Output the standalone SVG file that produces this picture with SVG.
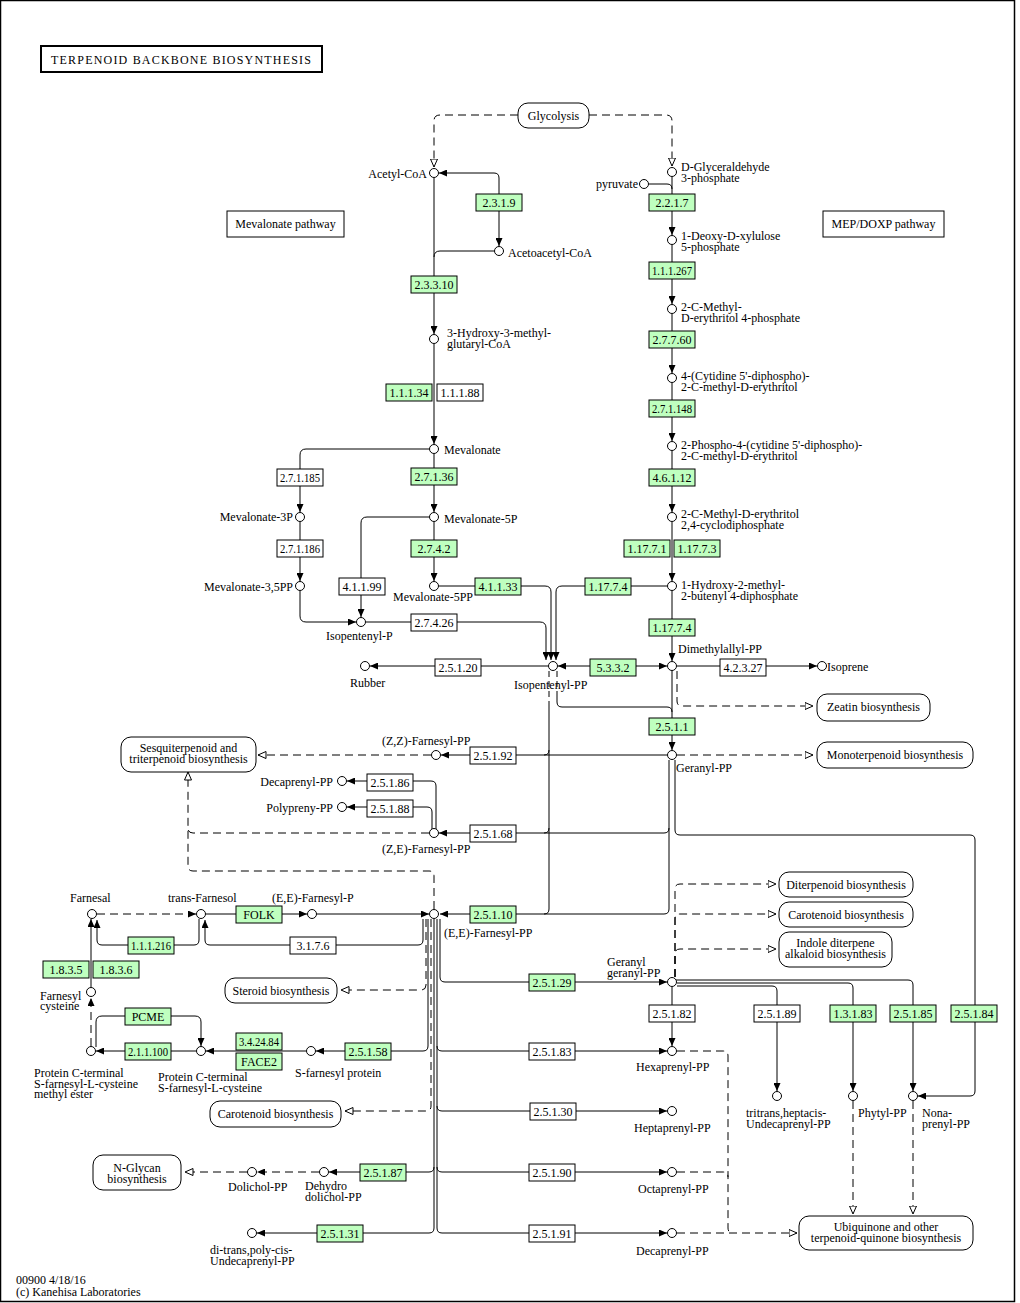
<svg xmlns="http://www.w3.org/2000/svg" width="1020" height="1303" viewBox="0 0 1020 1303">
<style>
text{font-family:"Liberation Serif","Times New Roman",serif;font-size:12px;fill:#000}
.ln{fill:none;stroke:#000;stroke-width:1}
.dl{fill:none;stroke:#000;stroke-width:1;stroke-dasharray:8 5}
.ds{fill:none;stroke:#000;stroke-width:1;stroke-dasharray:6 4}
.cp{fill:#fff;stroke:#000;stroke-width:1}
.eg rect{fill:#bfffbf;stroke:#000;stroke-width:1}
.ew rect{fill:#fff;stroke:#000;stroke-width:1}
.eg text,.ew text,.mp text{text-anchor:middle}
.mp rect{fill:#fff;stroke:#000;stroke-width:1}
.e{text-anchor:end}
</style>
<defs>
<marker id="fa" viewBox="0 0 8 7" refX="8" refY="3.5" markerWidth="8" markerHeight="7" markerUnits="userSpaceOnUse" orient="auto-start-reverse"><path d="M0,0L8,3.5L0,7z" fill="#000"/></marker>
<marker id="oa" viewBox="0 0 9 8" refX="8.5" refY="4" markerWidth="9" markerHeight="8" markerUnits="userSpaceOnUse" orient="auto"><path d="M0.5,0.5L8.5,4L0.5,7.5z" fill="#fff" stroke="#000" stroke-width="1" stroke-dasharray="none"/></marker>
</defs>
<rect x="0.5" y="0.5" width="1014" height="1301" fill="#fff" stroke="#000" stroke-width="1.5"/>
<g id="title"><rect x="41" y="46" width="281" height="26" fill="#fff" stroke="#000" stroke-width="2"/><text x="51" y="64" textLength="260" lengthAdjust="spacing">TERPENOID BACKBONE BIOSYNTHESIS</text></g>

<g id="connectors">
<path class="dl" marker-end="url(#oa)" d="M518,115H440Q434,115 434,121V167"/>
<path class="dl" marker-end="url(#oa)" d="M589,115H666Q672,115 672,121V166"/>
<path class="ln" marker-start="url(#fa)" marker-end="url(#fa)" d="M439,173H494Q499,173 499,178V246"/>
<path class="ln" d="M649,184H667Q672,184 672,189"/>
<path class="ln" marker-end="url(#fa)" d="M672,177V235"/>
<path class="ln" marker-end="url(#fa)" d="M672,245V304"/>
<path class="ln" marker-end="url(#fa)" d="M672,314V373"/>
<path class="ln" marker-end="url(#fa)" d="M672,383V441"/>
<path class="ln" marker-end="url(#fa)" d="M672,451V512"/>
<path class="ln" marker-end="url(#fa)" d="M672,522V581"/>
<path class="ln" marker-end="url(#fa)" d="M672,591V661"/>
<path class="ln" d="M494,251H440Q434,251 434,257"/>
<path class="ln" marker-end="url(#fa)" d="M434,178V334"/>
<path class="ln" marker-end="url(#fa)" d="M434,344V444"/>
<path class="ln" marker-end="url(#fa)" d="M434,454V512"/>
<path class="ln" marker-end="url(#fa)" d="M434,522V581"/>
<path class="ln" marker-end="url(#fa)" d="M429,449H306Q300,449 300,455V512"/>
<path class="ln" marker-end="url(#fa)" d="M300,522V581"/>
<path class="ln" marker-end="url(#fa)" d="M300,591V616Q300,622 306,622H356"/>
<path class="ln" marker-end="url(#fa)" d="M429,517H367Q361,517 361,523V617"/>
<path class="ln" marker-end="url(#fa)" d="M366,622H540Q546,622 546,628V660"/>
<path class="ln" marker-end="url(#fa)" d="M439,586H545Q551,586 551,592V660"/>
<path class="ln" marker-end="url(#fa)" d="M667,586H562Q556,586 556,592V660"/>
<path class="ln" marker-start="url(#fa)" marker-end="url(#fa)" d="M558,666H667"/>
<path class="ln" marker-end="url(#fa)" d="M548,666H370"/>
<path class="ln" marker-end="url(#fa)" d="M677,666H817"/>
<path class="dl" marker-end="url(#oa)" d="M677,671V701Q677,706 682,706H813"/>
<path class="ln" marker-end="url(#fa)" d="M672,671V750"/>
<path class="ds" d="M557,671V697"/>
<path class="ln" d="M557,697V702Q557,707 562,707H667Q672,707 672,712"/>
<path class="ds" d="M549,671V703"/>
<path class="ln" d="M549,703V750Q549,755 544,755M549,750V828Q549,833 544,833M549,828V909Q549,914 544,914"/>
<path class="ln" marker-end="url(#fa)" d="M667,755H441"/>
<path class="dl" marker-end="url(#oa)" d="M431,755H258"/>
<path class="dl" marker-end="url(#oa)" d="M677,755H813"/>
<path class="ln" marker-end="url(#fa)" d="M669,760V828Q669,833 664,833H439"/>
<path class="ln" marker-end="url(#fa)" d="M669,828V909Q669,914 664,914H440"/>
<path class="ln" marker-end="url(#fa)" d="M675,760V830Q675,835 680,835H970Q975,835 975,840V1091Q975,1096 970,1096H918"/>
<path class="dl" d="M429,833H193Q188,833 188,828"/>
<path class="dl" marker-end="url(#oa)" d="M434,909V876Q434,871 429,871H193Q188,871 188,866V772"/>
<path class="ln" marker-end="url(#fa)" d="M436,829V786Q436,781 431,781H347"/>
<path class="ln" marker-end="url(#fa)" d="M432,829V812Q432,807 427,807H347"/>
<path class="dl" marker-end="url(#fa)" d="M97,914H196"/>
<path class="ln" marker-end="url(#fa)" d="M206,914H307"/>
<path class="ln" marker-end="url(#fa)" d="M317,914H429"/>
<path class="ln" marker-end="url(#fa)" d="M199,919V940Q199,945 194,945H102Q97,945 97,940V920"/>
<path class="ln" marker-end="url(#fa)" d="M423,919V940Q423,945 418,945H210Q205,945 205,940V920"/>
<path class="ln" marker-end="url(#fa)" d="M91,987V919"/>
<path class="dl" marker-end="url(#fa)" d="M91,1046V998"/>
<path class="ln" marker-end="url(#fa)" d="M96,1047V1022Q96,1016 102,1016H195Q201,1016 201,1022V1046"/>
<path class="ln" marker-end="url(#fa)" d="M196,1051H96"/>
<path class="ln" marker-end="url(#fa)" d="M306,1051H206"/>
<path class="ln" marker-end="url(#fa)" d="M428,919V1046Q428,1051 423,1051H316"/>
<path class="dl" marker-end="url(#oa)" d="M426,919V985Q426,990 421,990H341"/>
<path class="dl" marker-end="url(#oa)" d="M431,919V1106Q431,1111 426,1111H345"/>
<path class="ln" marker-end="url(#fa)" d="M434,919V1167Q434,1172 429,1172H329"/>
<path class="ln" marker-end="url(#fa)" d="M434,1167V1228Q434,1233 429,1233H257"/>
<path class="dl" marker-end="url(#fa)" d="M319,1172H257"/>
<path class="dl" marker-end="url(#oa)" d="M247,1172H185"/>
<path class="ln" marker-end="url(#fa)" d="M437,919V1046Q437,1051 442,1051H667"/>
<path class="ln" marker-end="url(#fa)" d="M437,1046V1106Q437,1111 442,1111H667"/>
<path class="ln" marker-end="url(#fa)" d="M437,1106V1167Q437,1172 442,1172H667"/>
<path class="ln" marker-end="url(#fa)" d="M437,1167V1228Q437,1233 442,1233H667"/>
<path class="ln" marker-end="url(#fa)" d="M440,919V977Q440,982 445,982H667"/>
<path class="ln" marker-end="url(#fa)" d="M672,987V1046"/>
<path class="ln" marker-end="url(#fa)" d="M676,980H908Q913,980 913,985V1091"/>
<path class="ln" marker-end="url(#fa)" d="M677,983H848Q853,983 853,988V1091"/>
<path class="ln" marker-end="url(#fa)" d="M677,986H772Q777,986 777,991V1091"/>
<path class="dl" marker-end="url(#oa)" d="M675,977V889Q675,884 680,884H776"/>
<path class="dl" marker-end="url(#oa)" d="M675,977V919Q675,914 680,914H776"/>
<path class="dl" marker-end="url(#oa)" d="M675,977V954Q675,949 680,949H776"/>
<path class="dl" d="M677,1051H723Q728,1051 728,1056V1228Q728,1233 733,1233"/>
<path class="dl" d="M677,1172H723Q728,1172 728,1177"/>
<path class="dl" marker-end="url(#oa)" d="M677,1233H797"/>
<path class="dl" marker-end="url(#oa)" d="M853,1101V1214"/>
<path class="dl" marker-end="url(#oa)" d="M913,1101V1214"/>
</g>

<g id="map-glycolysis" class="mp"><rect x="518" y="103" width="71" height="25" rx="10"/><text x="553.5" y="120">Glycolysis</text></g>
<g id="map-zeatin" class="mp"><rect x="817" y="694" width="113" height="27" rx="10"/><text x="873.5" y="711">Zeatin biosynthesis</text></g>
<g id="map-monoterpenoid" class="mp"><rect x="817" y="742" width="156" height="26" rx="10"/><text x="895" y="759">Monoterpenoid biosynthesis</text></g>
<g id="map-sesquiterpenoid" class="mp"><rect x="121" y="737" width="135" height="35" rx="10"/><text x="188.5" y="752">Sesquiterpenoid and<tspan x="188.5" dy="11">triterpenoid biosynthesis</tspan></text></g>
<g id="map-steroid" class="mp"><rect x="225" y="978" width="112" height="25" rx="10"/><text x="281" y="995">Steroid biosynthesis</text></g>
<g id="map-carotenoid-l" class="mp"><rect x="210" y="1101" width="131" height="26" rx="10"/><text x="275.5" y="1118">Carotenoid biosynthesis</text></g>
<g id="map-nglycan" class="mp"><rect x="93" y="1155" width="88" height="35" rx="10"/><text x="137" y="1172">N-Glycan<tspan x="137" dy="11">biosynthesis</tspan></text></g>
<g id="map-diterpenoid" class="mp"><rect x="779" y="872" width="134" height="25" rx="10"/><text x="846" y="889">Diterpenoid biosynthesis</text></g>
<g id="map-carotenoid-r" class="mp"><rect x="779" y="902" width="134" height="25" rx="10"/><text x="846" y="919">Carotenoid biosynthesis</text></g>
<g id="map-indole" class="mp"><rect x="779" y="932" width="113" height="35" rx="10"/><text x="835.5" y="947">Indole diterpene<tspan x="835.5" dy="11">alkaloid biosynthesis</tspan></text></g>
<g id="map-ubiquinone" class="mp"><rect x="799" y="1216" width="174" height="34" rx="10"/><text x="886" y="1231">Ubiquinone and other<tspan x="886" dy="11">terpenoid-quinone biosynthesis</tspan></text></g>
<g id="mevalonate-pathway" class="mp"><rect x="227" y="211" width="117" height="26"/><text x="285.5" y="228">Mevalonate pathway</text></g>
<g id="mep-pathway" class="mp"><rect x="823" y="211" width="121" height="26"/><text x="883.5" y="228">MEP/DOXP pathway</text></g>

<g id="e-2.3.1.9" class="eg"><rect x="476" y="194" width="46" height="17"/><text x="499" y="207">2.3.1.9</text></g>
<g id="e-2.3.3.10" class="eg"><rect x="411" y="276" width="46" height="17"/><text x="434" y="289">2.3.3.10</text></g>
<g id="e-1.1.1.34" class="eg"><rect x="386" y="384" width="46" height="17"/><text x="409" y="397">1.1.1.34</text></g>
<g id="e-1.1.1.88" class="ew"><rect x="437" y="384" width="46" height="17"/><text x="460" y="397">1.1.1.88</text></g>
<g id="e-2.7.1.36" class="eg"><rect x="411" y="468" width="46" height="17"/><text x="434" y="481">2.7.1.36</text></g>
<g id="e-2.7.4.2" class="eg"><rect x="411" y="540" width="46" height="17"/><text x="434" y="553">2.7.4.2</text></g>
<g id="e-2.7.1.185" class="ew"><rect x="277" y="469" width="46" height="17"/><text x="300" y="482" textLength="40" lengthAdjust="spacingAndGlyphs">2.7.1.185</text></g>
<g id="e-2.7.1.186" class="ew"><rect x="277" y="540" width="46" height="17"/><text x="300" y="553" textLength="40" lengthAdjust="spacingAndGlyphs">2.7.1.186</text></g>
<g id="e-4.1.1.99" class="ew"><rect x="339" y="578" width="46" height="17"/><text x="362" y="591">4.1.1.99</text></g>
<g id="e-4.1.1.33" class="eg"><rect x="475" y="578" width="46" height="17"/><text x="498" y="591">4.1.1.33</text></g>
<g id="e-2.7.4.26" class="ew"><rect x="411" y="614" width="46" height="17"/><text x="434" y="627">2.7.4.26</text></g>
<g id="e-1.17.7.4a" class="eg"><rect x="585" y="578" width="46" height="17"/><text x="608" y="591">1.17.7.4</text></g>
<g id="e-2.5.1.20" class="ew"><rect x="435" y="659" width="46" height="17"/><text x="458" y="672">2.5.1.20</text></g>
<g id="e-5.3.3.2" class="eg"><rect x="590" y="659" width="46" height="17"/><text x="613" y="672">5.3.3.2</text></g>
<g id="e-2.2.1.7" class="eg"><rect x="649" y="194" width="46" height="17"/><text x="672" y="207">2.2.1.7</text></g>
<g id="e-1.1.1.267" class="eg"><rect x="649" y="262" width="46" height="17"/><text x="672" y="275" textLength="40" lengthAdjust="spacingAndGlyphs">1.1.1.267</text></g>
<g id="e-2.7.7.60" class="eg"><rect x="649" y="331" width="46" height="17"/><text x="672" y="344">2.7.7.60</text></g>
<g id="e-2.7.1.148" class="eg"><rect x="649" y="400" width="46" height="17"/><text x="672" y="413" textLength="40" lengthAdjust="spacingAndGlyphs">2.7.1.148</text></g>
<g id="e-4.6.1.12" class="eg"><rect x="649" y="469" width="46" height="17"/><text x="672" y="482">4.6.1.12</text></g>
<g id="e-1.17.7.1" class="eg"><rect x="624" y="540" width="46" height="17"/><text x="647" y="553">1.17.7.1</text></g>
<g id="e-1.17.7.3" class="eg"><rect x="674" y="540" width="46" height="17"/><text x="697" y="553">1.17.7.3</text></g>
<g id="e-1.17.7.4b" class="eg"><rect x="649" y="619" width="46" height="17"/><text x="672" y="632">1.17.7.4</text></g>
<g id="e-4.2.3.27" class="ew"><rect x="720" y="659" width="46" height="17"/><text x="743" y="672">4.2.3.27</text></g>
<g id="e-2.5.1.1" class="eg"><rect x="649" y="718" width="46" height="17"/><text x="672" y="731">2.5.1.1</text></g>
<g id="e-2.5.1.92" class="ew"><rect x="470" y="747" width="46" height="17"/><text x="493" y="760">2.5.1.92</text></g>
<g id="e-2.5.1.86" class="ew"><rect x="367" y="774" width="46" height="17"/><text x="390" y="787">2.5.1.86</text></g>
<g id="e-2.5.1.88" class="ew"><rect x="367" y="800" width="46" height="17"/><text x="390" y="813">2.5.1.88</text></g>
<g id="e-2.5.1.68" class="ew"><rect x="470" y="825" width="46" height="17"/><text x="493" y="838">2.5.1.68</text></g>
<g id="e-2.5.1.10" class="eg"><rect x="470" y="906" width="46" height="17"/><text x="493" y="919">2.5.1.10</text></g>
<g id="e-FOLK" class="eg"><rect x="236" y="906" width="46" height="17"/><text x="259" y="919">FOLK</text></g>
<g id="e-1.1.1.216" class="eg"><rect x="128" y="937" width="46" height="17"/><text x="151" y="950" textLength="40" lengthAdjust="spacingAndGlyphs">1.1.1.216</text></g>
<g id="e-3.1.7.6" class="ew"><rect x="290" y="937" width="46" height="17"/><text x="313" y="950">3.1.7.6</text></g>
<g id="e-1.8.3.5" class="eg"><rect x="43" y="961" width="46" height="17"/><text x="66" y="974">1.8.3.5</text></g>
<g id="e-1.8.3.6" class="eg"><rect x="93" y="961" width="46" height="17"/><text x="116" y="974">1.8.3.6</text></g>
<g id="e-PCME" class="eg"><rect x="125" y="1008" width="46" height="17"/><text x="148" y="1021">PCME</text></g>
<g id="e-2.1.1.100" class="eg"><rect x="125" y="1043" width="46" height="17"/><text x="148" y="1056" textLength="40" lengthAdjust="spacingAndGlyphs">2.1.1.100</text></g>
<g id="e-3.4.24.84" class="eg"><rect x="236" y="1033" width="46" height="17"/><text x="259" y="1046" textLength="40" lengthAdjust="spacingAndGlyphs">3.4.24.84</text></g>
<g id="e-FACE2" class="eg"><rect x="236" y="1053" width="46" height="17"/><text x="259" y="1066">FACE2</text></g>
<g id="e-2.5.1.58" class="eg"><rect x="345" y="1043" width="46" height="17"/><text x="368" y="1056">2.5.1.58</text></g>
<g id="e-2.5.1.87" class="eg"><rect x="360" y="1164" width="46" height="17"/><text x="383" y="1177">2.5.1.87</text></g>
<g id="e-2.5.1.31" class="eg"><rect x="317" y="1225" width="46" height="17"/><text x="340" y="1238">2.5.1.31</text></g>
<g id="e-2.5.1.29" class="eg"><rect x="529" y="974" width="46" height="17"/><text x="552" y="987">2.5.1.29</text></g>
<g id="e-2.5.1.82" class="ew"><rect x="649" y="1005" width="46" height="17"/><text x="672" y="1018">2.5.1.82</text></g>
<g id="e-2.5.1.89" class="ew"><rect x="754" y="1005" width="46" height="17"/><text x="777" y="1018">2.5.1.89</text></g>
<g id="e-1.3.1.83" class="eg"><rect x="830" y="1005" width="46" height="17"/><text x="853" y="1018">1.3.1.83</text></g>
<g id="e-2.5.1.85" class="eg"><rect x="890" y="1005" width="46" height="17"/><text x="913" y="1018">2.5.1.85</text></g>
<g id="e-2.5.1.84" class="eg"><rect x="951" y="1005" width="46" height="17"/><text x="974" y="1018">2.5.1.84</text></g>
<g id="e-2.5.1.83" class="ew"><rect x="529" y="1043" width="46" height="17"/><text x="552" y="1056">2.5.1.83</text></g>
<g id="e-2.5.1.30" class="ew"><rect x="530" y="1103" width="46" height="17"/><text x="553" y="1116">2.5.1.30</text></g>
<g id="e-2.5.1.90" class="ew"><rect x="529" y="1164" width="46" height="17"/><text x="552" y="1177">2.5.1.90</text></g>
<g id="e-2.5.1.91" class="ew"><rect x="529" y="1225" width="46" height="17"/><text x="552" y="1238">2.5.1.91</text></g>

<g id="c-acetylcoa"><circle class="cp" cx="434" cy="173" r="4.5"/><text class="e" x="427" y="178">Acetyl-CoA</text></g>
<g id="c-acetoacetylcoa"><circle class="cp" cx="499" cy="251" r="4.5"/><text x="508" y="257">Acetoacetyl-CoA</text></g>
<g id="c-hmgcoa"><circle class="cp" cx="434" cy="339" r="4.5"/><text x="447" y="337">3-Hydroxy-3-methyl-<tspan x="447" dy="11">glutaryl-CoA</tspan></text></g>
<g id="c-mevalonate"><circle class="cp" cx="434" cy="449" r="4.5"/><text x="444" y="454">Mevalonate</text></g>
<g id="c-mev5p"><circle class="cp" cx="434" cy="517" r="4.5"/><text x="444" y="523">Mevalonate-5P</text></g>
<g id="c-mev5pp"><circle class="cp" cx="434" cy="586" r="4.5"/><text x="393" y="601">Mevalonate-5PP</text></g>
<g id="c-mev3p"><circle class="cp" cx="300" cy="517" r="4.5"/><text class="e" x="293" y="521">Mevalonate-3P</text></g>
<g id="c-mev35pp"><circle class="cp" cx="300" cy="586" r="4.5"/><text class="e" x="293" y="591">Mevalonate-3,5PP</text></g>
<g id="c-ip"><circle class="cp" cx="361" cy="622" r="4.5"/><text x="326" y="640">Isopentenyl-P</text></g>
<g id="c-ipp"><circle class="cp" cx="553" cy="666" r="4.5"/><text x="514" y="689">Isopentenyl-PP</text></g>
<g id="c-rubber"><circle class="cp" cx="365" cy="666" r="4.5"/><text x="350" y="687">Rubber</text></g>
<g id="c-gap"><circle class="cp" cx="672" cy="172" r="4.5"/><text x="681" y="171">D-Glyceraldehyde<tspan x="681" dy="11">3-phosphate</tspan></text></g>
<g id="c-pyruvate"><circle class="cp" cx="644" cy="184" r="4.5"/><text class="e" x="638" y="188">pyruvate</text></g>
<g id="c-dxp"><circle class="cp" cx="672" cy="240" r="4.5"/><text x="681" y="240">1-Deoxy-D-xylulose<tspan x="681" dy="11">5-phosphate</tspan></text></g>
<g id="c-mep"><circle class="cp" cx="672" cy="309" r="4.5"/><text x="681" y="311">2-C-Methyl-<tspan x="681" dy="11">D-erythritol 4-phosphate</tspan></text></g>
<g id="c-cdpme"><circle class="cp" cx="672" cy="378" r="4.5"/><text x="681" y="380">4-(Cytidine 5'-diphospho)-<tspan x="681" dy="11">2-C-methyl-D-erythritol</tspan></text></g>
<g id="c-cdpmep"><circle class="cp" cx="672" cy="446" r="4.5"/><text x="681" y="449">2-Phospho-4-(cytidine 5'-diphospho)-<tspan x="681" dy="11">2-C-methyl-D-erythritol</tspan></text></g>
<g id="c-mecpp"><circle class="cp" cx="672" cy="517" r="4.5"/><text x="681" y="518">2-C-Methyl-D-erythritol<tspan x="681" dy="11">2,4-cyclodiphosphate</tspan></text></g>
<g id="c-hmbpp"><circle class="cp" cx="672" cy="586" r="4.5"/><text x="681" y="589">1-Hydroxy-2-methyl-<tspan x="681" dy="11">2-butenyl 4-diphosphate</tspan></text></g>
<g id="c-dmapp"><circle class="cp" cx="672" cy="666" r="4.5"/><text x="678" y="653">Dimethylallyl-PP</text></g>
<g id="c-isoprene"><circle class="cp" cx="822" cy="666" r="4.5"/><text x="827" y="671">Isoprene</text></g>
<g id="c-gpp"><circle class="cp" cx="672" cy="755" r="4.5"/><text x="676" y="772">Geranyl-PP</text></g>
<g id="c-zzfpp"><circle class="cp" cx="436" cy="755" r="4.5"/><text x="382" y="745">(Z,Z)-Farnesyl-PP</text></g>
<g id="c-decapp1"><circle class="cp" cx="342" cy="781" r="4.5"/><text class="e" x="333" y="786">Decaprenyl-PP</text></g>
<g id="c-polypp"><circle class="cp" cx="342" cy="807" r="4.5"/><text class="e" x="333" y="812">Polypreny-PP</text></g>
<g id="c-zefpp"><circle class="cp" cx="434" cy="833" r="4.5"/><text x="382" y="853">(Z,E)-Farnesyl-PP</text></g>
<g id="c-eefpp"><circle class="cp" cx="434" cy="914" r="4.5"/><text x="444" y="937">(E,E)-Farnesyl-PP</text></g>
<g id="c-eefp"><circle class="cp" cx="312" cy="914" r="4.5"/><text x="272" y="902">(E,E)-Farnesyl-P</text></g>
<g id="c-farnesol"><circle class="cp" cx="201" cy="914" r="4.5"/><text x="168" y="902">trans-Farnesol</text></g>
<g id="c-farnesal"><circle class="cp" cx="92" cy="914" r="4.5"/><text x="70" y="902">Farnesal</text></g>
<g id="c-farncys"><circle class="cp" cx="91" cy="992" r="4.5"/><text x="40" y="1000">Farnesyl<tspan x="40" dy="10">cysteine</tspan></text></g>
<g id="c-pcys-ester"><circle class="cp" cx="91" cy="1051" r="4.5"/><text x="34" y="1077">Protein C-terminal<tspan x="34" dy="10.5">S-farnesyl-L-cysteine</tspan><tspan x="34" dy="10.5">methyl ester</tspan></text></g>
<g id="c-pcys"><circle class="cp" cx="201" cy="1051" r="4.5"/><text x="158" y="1081">Protein C-terminal<tspan x="158" dy="11">S-farnesyl-L-cysteine</tspan></text></g>
<g id="c-sfprot"><circle class="cp" cx="311" cy="1051" r="4.5"/><text x="295" y="1077">S-farnesyl protein</text></g>
<g id="c-dolpp"><circle class="cp" cx="252" cy="1172" r="4.5"/><text x="228" y="1191">Dolichol-PP</text></g>
<g id="c-dehydrodolpp"><circle class="cp" cx="324" cy="1172" r="4.5"/><text x="305" y="1190">Dehydro<tspan x="305" dy="11">dolichol-PP</tspan></text></g>
<g id="c-undecapp"><circle class="cp" cx="252" cy="1233" r="4.5"/><text x="210" y="1254">di-trans,poly-cis-<tspan x="210" dy="11">Undecaprenyl-PP</tspan></text></g>
<g id="c-ggpp"><circle class="cp" cx="672" cy="982" r="4.5"/><text x="607" y="966">Geranyl<tspan x="607" dy="11">geranyl-PP</tspan></text></g>
<g id="c-hexapp"><circle class="cp" cx="672" cy="1051" r="4.5"/><text x="636" y="1071">Hexaprenyl-PP</text></g>
<g id="c-heptapp"><circle class="cp" cx="672" cy="1111" r="4.5"/><text x="634" y="1132">Heptaprenyl-PP</text></g>
<g id="c-octapp"><circle class="cp" cx="672" cy="1172" r="4.5"/><text x="638" y="1193">Octaprenyl-PP</text></g>
<g id="c-decapp2"><circle class="cp" cx="672" cy="1233" r="4.5"/><text x="636" y="1255">Decaprenyl-PP</text></g>
<g id="c-tritrans"><circle class="cp" cx="777" cy="1096" r="4.5"/><text x="746" y="1117">tritrans,heptacis-<tspan x="746" dy="11">Undecaprenyl-PP</tspan></text></g>
<g id="c-phytylpp"><circle class="cp" cx="853" cy="1096" r="4.5"/><text x="858" y="1117">Phytyl-PP</text></g>
<g id="c-nonapp"><circle class="cp" cx="913" cy="1096" r="4.5"/><text x="922" y="1117">Nona-<tspan x="922" dy="11">prenyl-PP</tspan></text></g>

<g id="footer"><text x="16" y="1284">00900 4/18/16<tspan x="16" dy="12">(c) Kanehisa Laboratories</tspan></text></g>
</svg>
